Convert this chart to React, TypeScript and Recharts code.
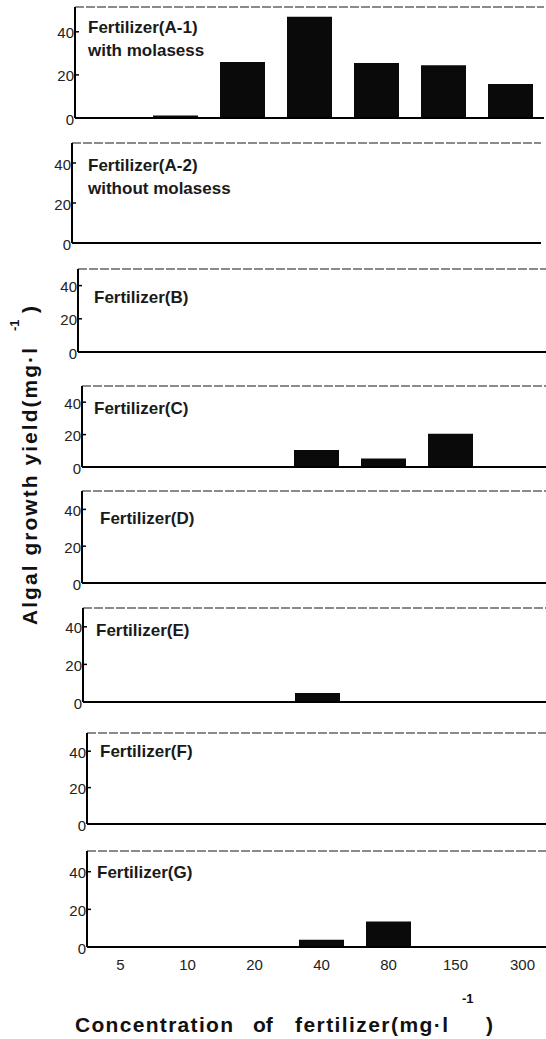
import React from "react"
import { BarChart, Bar, XAxis, YAxis, ReferenceLine } from "recharts"

// concentration of fertilizer (mg/l)
const concentrations = ["5", "10", "20", "40", "80", "150", "300"]

// algal growth yield (mg/l)
const yieldA1 = [0.5, 1.2, 26, 47, 25.5, 24.5, 15.8]
const yieldA2 = [0.4, 0.4, 0.4, 0.5, 0.5, 0.5, 0.5]
const yieldB = [0.3, 0.3, 0.4, 0.4, 0.3, 0.3, 0.4]
const yieldC = [0.4, 0.4, 0.4, 10.5, 5.2, 20.5, 0.5]
const yieldD = [0.3, 0.3, 0.3, 0.3, 0.3, 0.3, 0.4]
const yieldE = [0.4, 0.4, 0.4, 4.8, 0.4, 0.4, 0.5]
const yieldF = [0.3, 0.3, 0.3, 0.3, 0.3, 0.3, 0.4]
const yieldG = [0.4, 0.4, 0.4, 3.8, 13.5, 0.5, 0.5]

const yTicks = [0, 20, 40]

const FONT = "'Liberation Sans', Arial, sans-serif"
const PLOT_W = 469

// label lines, plot top (y of max), zero line, left edge of plot
const panels = [
  { label: ["Fertilizer(A-1)", "with molasess"], values: yieldA1, top: 7, zero: 118, left: 75, yMax: 51.5, lx: 88, ly: 27 },
  { label: ["Fertilizer(A-2)", "without molasess"], values: yieldA2, top: 143, zero: 243, left: 72, yMax: 50, lx: 88, ly: 165 },
  { label: ["Fertilizer(B)"], values: yieldB, top: 269, zero: 352, left: 78, yMax: 50, lx: 94, ly: 297 },
  { label: ["Fertilizer(C)"], values: yieldC, top: 386, zero: 467, left: 82, yMax: 50, lx: 94, ly: 408 },
  { label: ["Fertilizer(D)"], values: yieldD, top: 491, zero: 583, left: 82, yMax: 50, lx: 100, ly: 518 },
  { label: ["Fertilizer(E)"], values: yieldE, top: 608, zero: 702, left: 83, yMax: 50, lx: 96, ly: 630 },
  { label: ["Fertilizer(F)"], values: yieldF, top: 733, zero: 824, left: 87, yMax: 50, lx: 100, ly: 751 },
  { label: ["Fertilizer(G)"], values: yieldG, top: 851, zero: 947, left: 87, yMax: 51, lx: 97, ly: 872 },
]

function YTick({ x, y, payload }: any) {
  return (
    <g>
      <line x1={x} x2={x + 4} y1={y} y2={y} stroke="#000" strokeWidth={1.5} />
      <text x={x - 1} y={y + 1} textAnchor="end" dominantBaseline="central" fontSize={15} fontFamily={FONT} fill="#222">
        {payload.value}
      </text>
    </g>
  )
}

function XTick({ x, y, payload }: any) {
  return (
    <text x={x} y={y + 15} textAnchor="middle" dominantBaseline="central" fontSize={15} fontFamily={FONT} fill="#222">
      {payload.value}
    </text>
  )
}

function Panel({ p, last }: { p: any; last: boolean }) {
  const rows = concentrations.map((c, i) => ({ conc: c, v: p.values[i] }))
  const xH = last ? 30 : 10
  const h = p.zero - p.top + 4 + xH
  const w = p.left + PLOT_W + 2
  return (
    <div style={{ position: "absolute", left: 0, top: p.top - 2 }}>
      <BarChart width={w} height={h} data={rows} margin={{ top: 2, right: 2, bottom: 2, left: 0 }} barCategoryGap={11}>
        <XAxis
          dataKey="conc"
          height={xH}
          interval={0}
          tick={last ? <XTick /> : false}
          tickLine={false}
          tickSize={0}
          axisLine={{ stroke: "#000", strokeWidth: 2 }}
        />
        <YAxis
          yAxisId="left"
          width={p.left}
          domain={[0, p.yMax]}
          ticks={yTicks}
          interval={0}
          allowDataOverflow
          tickLine={false}
          tickSize={0}
          tickMargin={0}
          tick={<YTick />}
          axisLine={{ stroke: "#000", strokeWidth: 2 }}
        />
        <YAxis
          yAxisId="right"
          orientation="right"
          width={0}
          domain={[0, p.yMax]}
          tick={false}
          tickLine={false}
          axisLine={{ stroke: "#777", strokeWidth: 1 }}
        />
        <ReferenceLine yAxisId="left" y={p.yMax} stroke="#666" strokeWidth={1.5} strokeDasharray="9 2" />
        <Bar yAxisId="left" dataKey="v" fill="#0a0a0a" isAnimationActive={false} />
      </BarChart>
    </div>
  )
}

export default function App() {
  return (
    <div style={{ position: "absolute", left: 0, top: 0, width: 546, height: 1039, overflow: "hidden", background: "#fff" }}>
      {panels.map((p, i) => (
        <Panel key={i} p={p} last={i === panels.length - 1} />
      ))}
      <svg width={546} height={1039} style={{ position: "absolute", left: 0, top: 0, pointerEvents: "none" }}>
        {panels.map((p, i) =>
          p.label.map((t: string, j: number) => (
            <text key={`${i}-${j}`} x={p.lx} y={p.ly + j * 23} dominantBaseline="central" fontSize={17} fontWeight="bold" fontFamily={FONT} fill="#1a1a1a">
              {t}
            </text>
          ))
        )}
        {/* y axis title */}
        <g transform="translate(37,625) rotate(-90)">
          <text x={0} y={0} fontSize={21} fontWeight="bold" fontFamily={FONT} fill="#111" textLength={277} lengthAdjust="spacing">
            Algal growth yield(mg·l
          </text>
          <text x={294} y={-18} fontSize={13} fontWeight="bold" fontFamily={FONT} fill="#111">-1</text>
          <text x={312} y={0} fontSize={21} fontWeight="bold" fontFamily={FONT} fill="#111">)</text>
        </g>
        {/* x axis title */}
        <text x={75} y={1032} fontSize={21} fontWeight="bold" fontFamily={FONT} fill="#111" textLength={158} lengthAdjust="spacing">
          Concentration
        </text>
        <text x={253} y={1032} fontSize={21} fontWeight="bold" fontFamily={FONT} fill="#111">of</text>
        <text x={295} y={1032} fontSize={21} fontWeight="bold" fontFamily={FONT} fill="#111" textLength={153} lengthAdjust="spacing">
          fertilizer(mg·l
        </text>
        <text x={462} y={1003} fontSize={13} fontWeight="bold" fontFamily={FONT} fill="#111">-1</text>
        <text x={486} y={1032} fontSize={21} fontWeight="bold" fontFamily={FONT} fill="#111">)</text>
      </svg>
    </div>
  )
}
